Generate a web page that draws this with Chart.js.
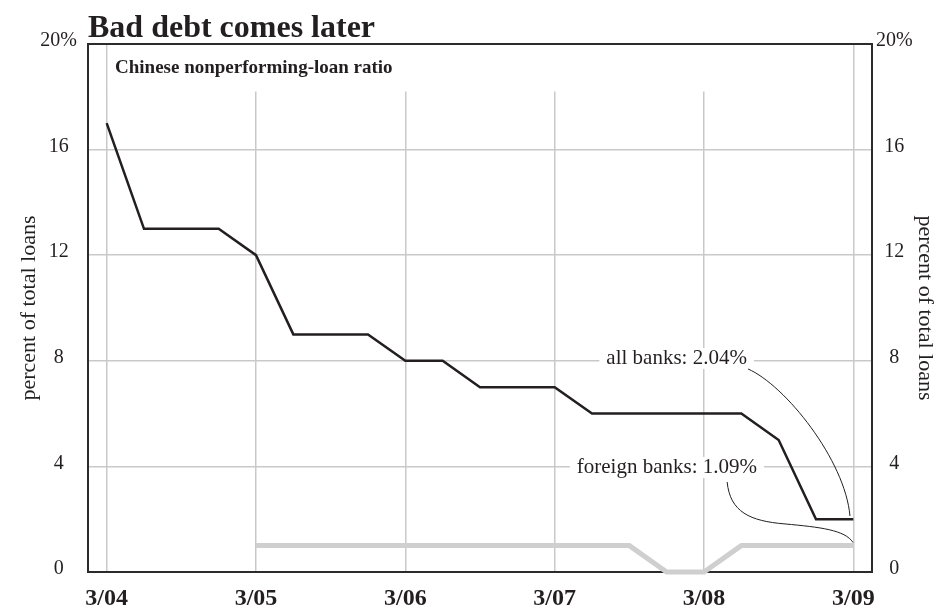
<!DOCTYPE html>
<html>
<head>
<meta charset="utf-8">
<script src="https://cdn.jsdelivr.net/npm/chart.js@4.4.1/dist/chart.umd.min.js"></script>
<style>
  html, body { margin: 0; padding: 0; background: #ffffff; }
  #wrap { width: 951px; height: 612px; }
</style>
</head>
<body>
<div id="wrap"><canvas id="c" width="951" height="612"></canvas></div>
<script>
// ---- data ----
const quarters = ['3/04','6/04','9/04','12/04','3/05','6/05','9/05','12/05','3/06','6/06','9/06','12/06',
                  '3/07','6/07','9/07','12/07','3/08','6/08','9/08','12/08','3/09'];
const allBanks = [17, 13, 13, 13, 12, 9, 9, 9, 8, 8, 7, 7, 7, 6, 6, 6, 6, 6, 5, 2, 2];
const foreignBanks = [null, null, null, null, 1, 1, 1, 1, 1, 1, 1, 1, 1, 1, 1, 0, 0, 1, 1, 1, 1];
const yTickValues = [0, 4, 8, 12, 16, 20];
const titleText = 'Bad debt comes later';
const subtitleText = 'Chinese nonperforming-loan ratio';
const axisTitle = 'percent of total loans';
const allLabel = 'all banks: 2.04%';
const foreignLabel = 'foreign banks: 1.09%';

const SERIF = '"Liberation Serif", "Times New Roman", serif';
const INK = '#231f20';
const GRID = '#c9c9c9';

// annotation anchors in data units (x = quarter index, y = percent)
const allLabelPos = { x: 17.15, y: 7.88 };
const foreignLabelPos = { x: 17.42, y: 3.75 };
const allCurve = [[17.18, 7.69], [18.17, 7.08], [19.78, 4.24], [19.91, 2.12]];
const foreignCurve1 = [[16.62, 3.41], [16.70, 2.27], [17.23, 1.93], [18.17, 1.82]];
const foreignCurve2 = [[18.17, 1.82], [19.11, 1.70], [19.78, 1.59], [19.99, 1.12]];

const decor = {
  id: 'decor',
  beforeDatasetsDraw(chart) {
    const { ctx, chartArea: a, scales: { x, y } } = chart;
    ctx.save();
    // white band behind subtitle
    ctx.fillStyle = '#ffffff';
    const bandBottom = y.getPixelForValue(18.2);
    ctx.fillRect(x.getPixelForValue(0) + 1.2, a.top, x.getPixelForValue(20) - x.getPixelForValue(0) - 2.4, bandBottom - a.top);
    // annotation labels with white background
    ctx.font = '21px ' + SERIF;
    ctx.textBaseline = 'alphabetic';
    ctx.textAlign = 'right';
    [[allLabel, allLabelPos], [foreignLabel, foreignLabelPos]].forEach(([t, p]) => {
      const w = ctx.measureText(t).width;
      const rx = x.getPixelForValue(p.x);
      const by = y.getPixelForValue(p.y);
      ctx.fillStyle = '#ffffff';
      ctx.fillRect(rx - w - 7, by - 16, w + 14, 21);
      ctx.fillStyle = INK;
      ctx.fillText(t, rx, by);
    });
    // frame
    ctx.strokeStyle = '#2b2b2b';
    ctx.lineWidth = 2;
    ctx.strokeRect(a.left, a.top, a.right - a.left, a.bottom - a.top);
    ctx.restore();
  },
  afterDatasetsDraw(chart) {
    const { ctx, scales: { x, y } } = chart;
    const P = (pt) => [x.getPixelForValue(pt[0]), y.getPixelForValue(pt[1])];
    ctx.save();
    ctx.strokeStyle = INK;
    ctx.lineWidth = 1;
    const bez = (c) => {
      const p = c.map(P);
      ctx.beginPath();
      ctx.moveTo(p[0][0], p[0][1]);
      ctx.bezierCurveTo(p[1][0], p[1][1], p[2][0], p[2][1], p[3][0], p[3][1]);
      ctx.stroke();
    };
    bez(allCurve);
    bez(foreignCurve1);
    bez(foreignCurve2);
    // title and subtitle
    ctx.fillStyle = INK;
    ctx.textAlign = 'left';
    ctx.textBaseline = 'alphabetic';
    ctx.font = 'bold 32px ' + SERIF;
    ctx.fillText(titleText, chart.chartArea.left, 37);
    ctx.font = 'bold 19px ' + SERIF;
    ctx.fillText(subtitleText, chart.chartArea.left + 27, 73);
    ctx.restore();
  }
};

const yTick = (v) => (v === 20 ? '20%' : String(v));

new Chart(document.getElementById('c'), {
  type: 'line',
  data: {
    labels: quarters,
    datasets: [
      {
        label: 'foreign banks',
        data: foreignBanks,
        borderColor: '#cfcfcf',
        borderWidth: 5,
        pointRadius: 0,
        tension: 0,
        clip: 6,
        spanGaps: false,
        order: 2
      },
      {
        label: 'all banks',
        data: allBanks,
        borderColor: INK,
        borderWidth: 2.5,
        pointRadius: 0,
        tension: 0,
        clip: 6,
        order: 1
      }
    ]
  },
  options: {
    responsive: false,
    devicePixelRatio: 1,
    animation: false,
    layout: { padding: { top: 44, left: 0, right: 0, bottom: 0 } },
    plugins: { legend: { display: false }, tooltip: { enabled: false }, title: { display: false } },
    scales: {
      x: {
        type: 'category',
        offset: true,
        border: { display: false },
        grid: {
          offset: false,
          drawTicks: false,
          lineWidth: 1.5,
          color: (c) => (c.index % 4 === 0 ? GRID : 'rgba(0,0,0,0)')
        },
        ticks: {
          autoSkip: false,
          maxRotation: 0,
          padding: 12,
          color: INK,
          font: { family: SERIF, size: 24, weight: 'bold' },
          callback: (v, i) => (i % 4 === 0 ? quarters[i] : '')
        },
        afterFit: (s) => { s.height = 40; }
      },
      y: {
        position: 'left',
        min: 0, max: 20,
        border: { display: false },
        grid: {
          drawTicks: false,
          lineWidth: 1.5,
          color: (c) => (c.tick && (c.tick.value === 0 || c.tick.value === 20) ? 'rgba(0,0,0,0)' : GRID)
        },
        afterBuildTicks: (s) => { s.ticks = yTickValues.map(v => ({ value: v })); },
        ticks: {
          crossAlign: 'center',
          padding: 11,
          labelOffset: -3,
          color: INK,
          font: { family: SERIF, size: 20 },
          callback: yTick
        },
        title: {
          display: true,
          text: axisTitle,
          color: INK,
          font: { family: SERIF, size: 22 },
          padding: { top: 16, bottom: 0 }
        },
        afterFit: (s) => { s.width = 88; }
      },
      y2: {
        position: 'right',
        min: 0, max: 20,
        border: { display: false },
        grid: { display: false, drawTicks: false },
        afterBuildTicks: (s) => { s.ticks = yTickValues.map(v => ({ value: v })); },
        ticks: {
          crossAlign: 'center',
          padding: 4,
          labelOffset: -3,
          color: INK,
          font: { family: SERIF, size: 20 },
          callback: yTick
        },
        title: {
          display: true,
          text: axisTitle,
          color: INK,
          font: { family: SERIF, size: 22 },
          padding: { top: 13, bottom: 0 }
        },
        afterFit: (s) => { s.width = 79; }
      }
    }
  },
  plugins: [decor]
});
</script>
</body>
</html>
